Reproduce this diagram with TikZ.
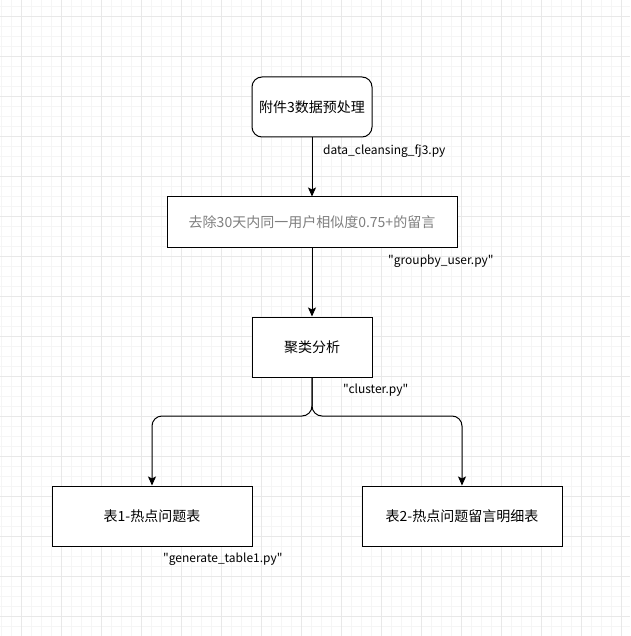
\documentclass[tikz,border=0pt]{standalone}
\usepackage{fontspec}
\newfontfamily\diagfont{Noto Sans CJK SC}
\usetikzlibrary{arrows.meta}
\definecolor{gridminor}{HTML}{F5F5F5}
\definecolor{gridmajor}{HTML}{E8E8E8}
\definecolor{softtext}{HTML}{7F7F7F}
\begin{document}
\begin{tikzpicture}[x=1pt,y=-1pt,
  box/.style={draw=black,line width=1pt,fill=white,inner sep=0pt,align=center,
    font=\diagfont\fontsize{14}{17}\selectfont},
  roundbox/.style={box,rounded corners=10pt},
  flow/.style={draw=black,line width=1pt,-{Stealth[length=9pt,width=8pt,inset=2pt]}},
  filelabel/.style={inner sep=0pt,anchor=west,font=\diagfont\fontsize{12}{14}\selectfont}]
  % canvas and background grid
  \fill[white] (0,0) rectangle (630,636);
  \useasboundingbox (0,0) rectangle (630,636);
  \foreach \gx in {1,11,...,621} \draw[gridminor,line width=0.8pt] (\gx,0) -- (\gx,636);
  \foreach \gy in {6,16,...,636} \draw[gridminor,line width=0.8pt] (0,\gy) -- (630,\gy);
  \foreach \gx in {21,61,...,621} \draw[gridmajor,line width=0.8pt] (\gx,0) -- (\gx,636);
  \foreach \gy in {16,56,...,616} \draw[gridmajor,line width=0.8pt] (0,\gy) -- (630,\gy);

  % process steps
  \node[roundbox,minimum width=120pt,minimum height=60pt] (prep) at (312,107) {附件3数据预处理};
  \node[box,minimum width=290pt,minimum height=50pt,text=softtext] (dedup) at (312,222) {去除30天内同一用户相似度0.75+的留言};
  \node[box,minimum width=120pt,minimum height=60pt] (cluster) at (312,347) {聚类分析};
  \node[box,minimum width=200pt,minimum height=60pt] (tabA) at (152,516) {表1-热点问题表};
  \node[box,minimum width=200pt,minimum height=60pt] (tabB) at (462,516) {表2-热点问题留言明细表};
  \coordinate (split) at (312,416);

  % connectors
  \draw[flow] (prep.south) -- (dedup.north);
  \draw[flow] (dedup.south) -- (cluster.north);
  \draw[flow,rounded corners=10pt] (cluster.south) -- (split) -| (tabA.north);
  \draw[flow,rounded corners=10pt] (cluster.south) -- (split) -| (tabB.north);

  % script names
  \node[filelabel] (lblA) at (323,151) {data\_cleansing\_fj3.py};
  \node[filelabel] (lblB) at (388,261) {"groupby\_user.py"};
  \node[filelabel] (lblC) at (343,390) {"cluster.py"};
  \node[filelabel] (lblD) at (163,559) {"generate\_table1.py"};
\end{tikzpicture}
\end{document}
